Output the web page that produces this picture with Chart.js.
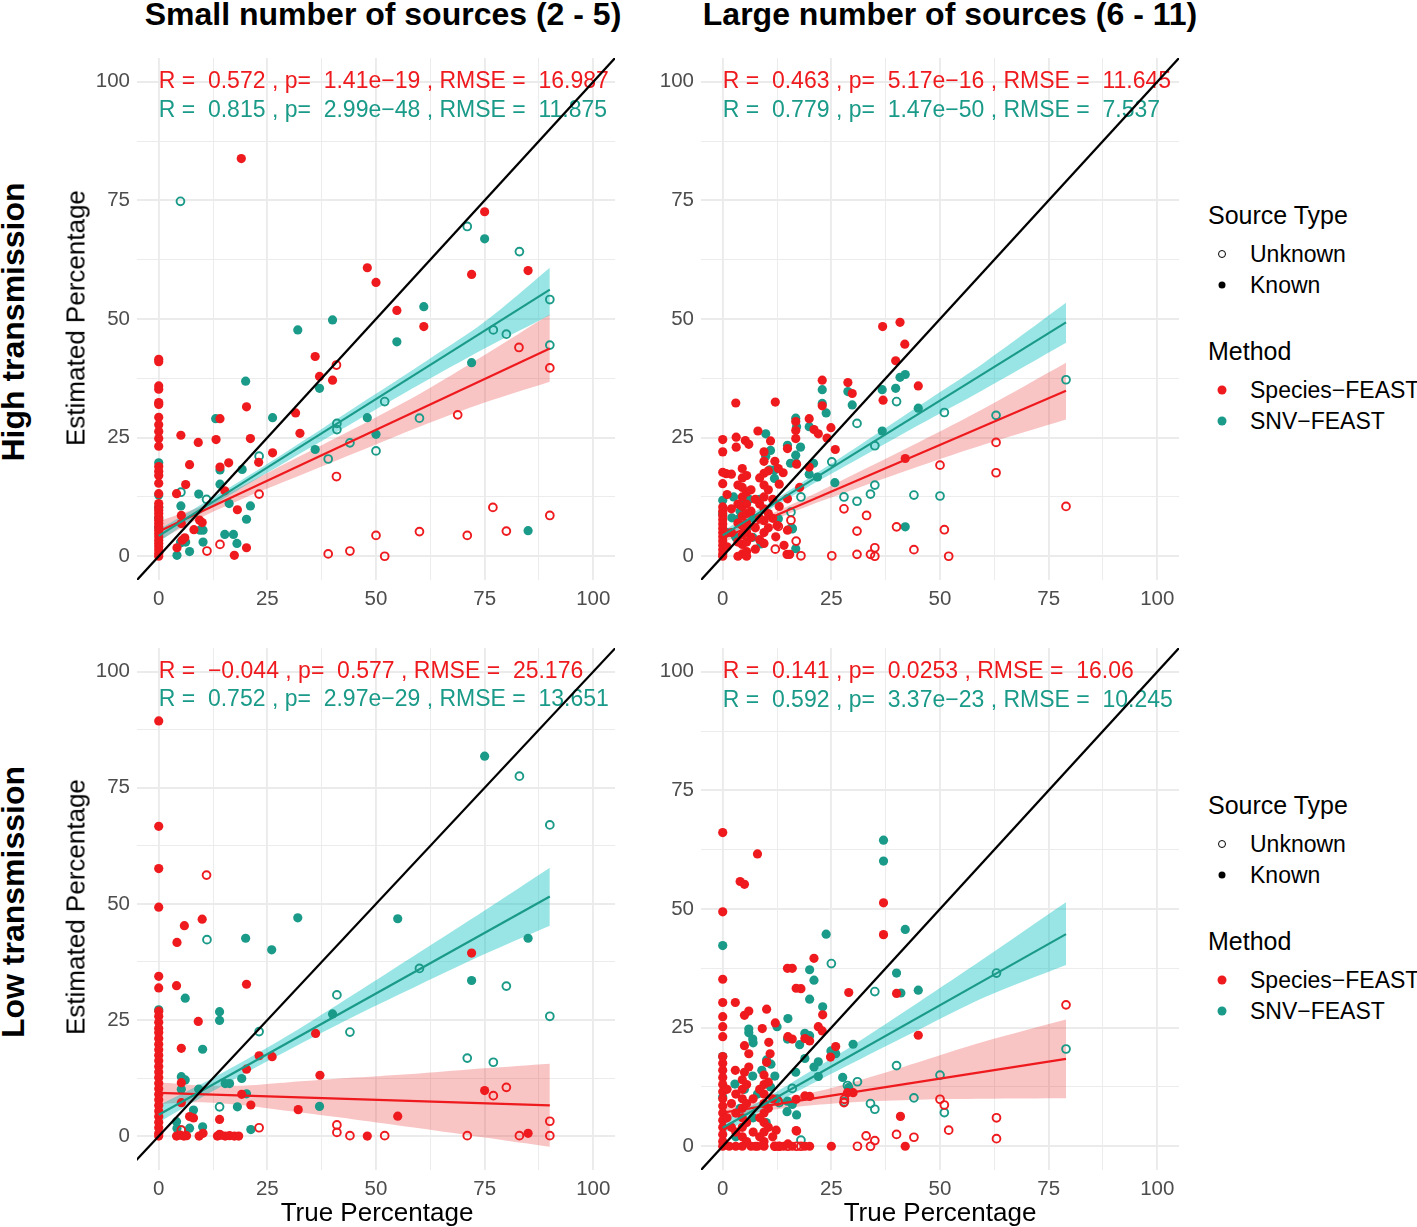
<!DOCTYPE html>
<html>
<head>
<meta charset="utf-8">
<script src="https://cdn.jsdelivr.net/npm/chart.js@4"></script>
<style>
  body { margin: 0; background: #fff; font-family: "Liberation Sans", Arial, sans-serif; }
  #page { position: relative; width: 1417px; height: 1227px; overflow: hidden; }
  canvas { position: absolute; }
  .t { position: absolute; white-space: nowrap; color: #000; }
  .c { transform: translate(-50%, -50%); }
  .r { transform: translate(-50%, -50%) rotate(-90deg); }
  .colt { font-size: 32px; font-weight: bold; }
  .rowt { font-size: 32px; font-weight: bold; }
  .axt { font-size: 26px; }
  .lgt { font-size: 25px; transform: translateY(-50%); }
  .lgi { font-size: 23px; transform: translateY(-50%); }
  .dot { position: absolute; border-radius: 50%; transform: translate(-50%, -50%); box-sizing: border-box; }
</style>
</head>
<body>
<div id="page">
  <canvas id="hs" width="548" height="582" style="left:77px;top:38px"></canvas>
  <canvas id="hl" width="548" height="582" style="left:641px;top:38px"></canvas>
  <canvas id="ls" width="548" height="582" style="left:77px;top:628px"></canvas>
  <canvas id="ll" width="548" height="582" style="left:641px;top:628px"></canvas>

  <div class="t c colt" style="left:383px;top:14px">Small number of sources (2 - 5)</div>
  <div class="t c colt" style="left:950px;top:14px">Large number of sources (6 - 11)</div>
  <div class="t r rowt" style="left:13px;top:322px">High transmission</div>
  <div class="t r rowt" style="left:13px;top:902px">Low transmission</div>
  <div class="t r axt" style="left:76px;top:318px">Estimated Percentage</div>
  <div class="t r axt" style="left:76px;top:907px">Estimated Percentage</div>
  <div class="t c axt" style="left:377px;top:1212px">True Percentage</div>
  <div class="t c axt" style="left:940px;top:1212px">True Percentage</div>

  <div id="legends"></div>
</div>

<script>
// colours
const RED = '#EE1A1E';
const TEAL = '#1A9A88';
const RED_BAND = 'rgba(235,60,60,0.30)';
const TEAL_BAND = 'rgba(0,190,190,0.40)';

// axes
const majorTicks = [0, 25, 50, 75, 100];
const gridVals = [0, 12.5, 25, 37.5, 50, 62.5, 75, 87.5, 100];
const refLine = [[-10, -10], [110, 110]];

// ---- High transmission, small number of sources ----
const hs_spKnown = [[19,83.8],[75,72.6],[48,60.8],[50,57.7],[72,59.4],[85,60.2],[54.8,51.8],[61,48.4],[36,42.1],[37,37.9],[40,37.1],[20.2,31.5],[31.5,30.2],[32.5,25.9],[21.1,24.8],[23,19.8],[26.2,21.8],[14.1,29],[13.2,24.6],[5.1,25.5],[9.1,24],[7.1,19.3],[14.1,18.8],[16.1,19.7],[6.2,15.1],[4.1,13.2],[15.2,13.8],[18.1,9.8],[20.2,1.8],[17.4,0.2],[5.2,8.6],[5.2,6.9],[8.1,5.6],[9.4,7.6],[10,7.1],[4.2,1.8],[5.4,3.4],[6,3.9],
  [0,41.5],[0,41],[0,35.9],[0,35.2],[0,32.4],[0,32],[0,29.3],[0,27.7],[0,26.3],[0,24.8],[0,23.2],[0,18.9],[0,17.9],[0,17],[0,15.4],[0,13.2],[0,11.1],[0,10.4],[0,9.7],[0,9],[0,8.3],[0,7.6],[0,6.9],[0,6.2],[0,5.5],[0,4.8],[0,4.1],[0,3.4],[0,2.7],[0,2],[0,1.3],[0,0.6],[0,0]];
const hs_spUnknown = [[40.9,40.3],[68.8,29.8],[82.9,44],[90,39.7],[40.9,16.8],[23.1,13.1],[76.9,10.3],[90,8.6],[50,4.4],[60,5.2],[71,4.4],[80,5.3],[39,0.5],[44,1.1],[52,0],[11.1,1.1],[14.1,2.5]];
const hs_snvKnown = [[75,66.9],[61,52.6],[40,49.8],[32,47.7],[54.8,45.2],[20,36.9],[37,35.4],[26.2,29.2],[48,29.2],[50,25.7],[36,22.5],[72,40.8],[85,5.4],[13.1,29],[19.2,18.3],[14.1,18.2],[14.1,15.2],[9.2,13.1],[5.1,10.6],[16.2,11.1],[21.1,10.6],[20.2,7.8],[10.2,5.5],[15.2,4.6],[17.2,4.6],[10.2,3],[18,2.7],[7.1,1],[4.2,0.2],[5.1,3],[6.2,3],[9.5,5.5],[0,19.7],[0,12.9],[0,10.3],[0,8],[0,6]];
const hs_snvUnknown = [[5,74.8],[71,69.5],[83,64.2],[90,54.1],[77,47.7],[80,46.8],[90,44.5],[52,32.6],[60,29.1],[41,28],[41,26.7],[44,23.9],[39,20.5],[50,22.2],[23.1,21.1],[11,12],[5.1,13.5],[5.1,2.9]];
const hs_spFit = [[0,5.2],[90,43.8]];
const hs_snvFit = [[0,4.3],[90,56.2]];
// band rows: [x, lower, upper]
const hs_spBand = [[0,3.3,7.4],[10,8.3,10.6],[20,12.4,15.2],[30,16.1,19.9],[45,21.7,26.9],[60,27.3,34.2],[75,32.4,42.4],[90,36.8,51]];
const hs_snvBand = [[0,3,5.6],[10,9.2,11],[20,14.9,16.6],[30,20.3,22.4],[45,28.3,31.3],[60,36.2,40.2],[75,43.8,49.4],[90,50.8,60.8]];
const hs_notes = ['R =  0.572 , p=  1.41e\u221219 , RMSE =  16.987', 'R =  0.815 , p=  2.99e\u221248 , RMSE =  11.875'];

// ---- High transmission, large number of sources ----
const hl_spKnown = [[36.8,48.4],[40.8,49.3],[41.9,44.7],[39.8,41.2],[45,35.9],[36.9,32.9],[22.9,37.1],[28.8,36.6],[29.8,34.3],[22.9,31.7],[12.1,32.5],[3,32.3],[19.9,29],[21,26.7],[22,25.8],[24,24.9],[24.9,27.1],[25.9,22.5],[42,20.6],[16.8,28.4],[16.8,26.5],[16.8,24.8],[14.9,22.7],[19.9,18.8],[13.9,17.6],[13,15.2],[12.8,18.5],[14.9,12.1],[14.9,5.5],[12.2,4.1],[14.1,2.3],[14.8,0.4],[15.4,0.4],[17,19.4],[17.7,14.5],
  [3.1,25.1],[5.2,24.4],[6,23.6],[8.1,26.4],[11,24.3],[3.1,23],[2,17.3],[0.8,17.4],[0,24.6],[0,22],[0,17.7],[0,15.3],
  [0,10.4],[0,9.5],[0,8.6],[0,7.7],[0,6.8],[0,5.9],[0,5],[0,4.1],[0,3.2],[0,2.3],[0,1.4],[0,0.5],[0,0],
  [4.5,18.5],[4.5,16.5],[4.5,14.5],[4.5,12.5],[4.5,10.5],[4.5,8.5],[4.5,6.5],[4.5,4.5],[4.5,2.5],[4.5,0.5],
  [5.5,17],[5.5,13.5],[5.5,11],[5.5,9],[5.5,7],[5.5,5],[5.5,3],[5.5,1],[5.5,0],
  [3.5,15],[3.5,11],[3.5,7],[3.5,3],[3.5,0],[2,10],[2,5],[1,13],[1,2],[6.5,14],[6.5,9.5],[6.5,4],[7.5,12],[7.5,6],[7.5,1.5],
  [9.5,22],[9.5,20],[9.5,17.5],[9.5,15],[9.5,12.5],[9.5,10],[9.5,7.5],[9.5,5],[9.5,2.7],[10.5,18],[10.5,14],[10.5,9],[10.5,6],[8.5,16.5],[8.5,11],[8.5,8],[8.5,3.5],[11.5,12],[11.5,8],[12,20],[13,10.5],[12.5,6.5]];
const hl_spUnknown = [[79,10.5],[62.9,24],[62.9,17.6],[50,19.2],[27.9,10],[33.1,8.6],[30.9,5.3],[40,6.2],[51,5.6],[44,1.4],[52,0],[35,1.8],[34,0.4],[35,0],[30.9,0.4],[25.1,0.1],[18,0.1],[16.9,3.2],[15.7,7.6],[12.8,6.3],[12.1,1.5]];
const hl_snvKnown = [[42,38.3],[40.8,37.7],[39.8,35.4],[36.7,35.1],[28.8,34.7],[29.8,31.9],[22.9,35.1],[22.9,32.2],[23.8,30.2],[45,31.2],[36.7,26.4],[25.8,15.5],[16.8,29.1],[17,27.3],[19.9,27.3],[17.9,23],[14.9,23.4],[16.8,21.3],[9.9,25.8],[11,22.3],[9.9,21.1],[21.8,16.7],[19.9,17.3],[20.9,19.6],[16.9,19.6],[15.6,19.6],[10.8,18.2],[11.9,16.4],[11.9,18.2],[12.8,7.9],[15.8,6],[16.8,1.6],[42,6.2],[8.8,2.6],[6.9,4],[2.1,8.1],[5,11.3],[3.5,7.8],[6.1,12],[8.5,12],[0,11.8],[0,9],[1,5],[3,4],[4,9.5],[7,8],[2.5,12.5],[5.5,6]];
const hl_snvUnknown = [[79,37.2],[62.9,29.7],[51,30.3],[40,32.6],[30.9,28],[35,23.3],[25.1,19.9],[18,12.5],[27.9,12.5],[30.9,11.6],[34,13.1],[35,15],[44,12.9],[50,12.7],[15.7,9.3],[16,5.8]];
const hl_spFit = [[0,3.8],[79,34.9]];
const hl_snvFit = [[0,4.4],[79,49.3]];
const hl_spBand = [[0,2.8,4.8],[10,7,8.5],[20,10.7,12.7],[30,14,17.2],[45,18.9,24],[60,23.5,31.1],[79,28.8,40.8]];
const hl_snvBand = [[0,3.4,5.3],[10,9.4,10.8],[20,14.8,16.6],[30,19.9,22.5],[45,27.6,31.6],[60,35.1,40.7],[79,45,53.4]];
const hl_notes = ['R =  0.463 , p=  5.17e\u221216 , RMSE =  11.645', 'R =  0.779 , p=  1.47e\u221250 , RMSE =  7.537'];

// ---- Low transmission, small number of sources ----
const ls_spKnown = [[0,89.4],[0,66.7],[0,57.6],[0,49.3],[10,46.7],[5.9,45.3],[4.2,41.7],[0,34.4],[0,31.9],[4.1,32.4],[20.2,32.7],[9.1,24.7],[5.2,18.9],[36.1,22.1],[23.1,17.3],[26.1,17.1],[20.2,14.4],[37.1,13.1],[72,39.4],[75,9.8],[85,0.6],[48,0],[55,4.3],[32.1,5.7],[21.2,6.7],[19.1,9],[5.2,11.5],[5.2,7.2],[7.1,4.2],[8,3.9],[14,3.6],
  [4.1,0],[5,0.2],[5.8,0],[6.4,0.1],[9.3,0],[10.2,0.6],[13.5,0],[14.3,0.2],[15.3,0],[16.3,0.1],[17.4,0],[18.4,0],
  [0,26.9],[0,25.8],[0,24.5],[0,23.2],[0,22.3],[0,21],[0,19.8],[0,18.6],[0,17.4],[0,16.2],[0,15],[0,13.8],[0,12.6],[0,11.4],[0,10.2],[0,9],[0,7.8],[0,6.6],[0,5.4],[0,4.2],[0,3],[0,1.8],[0,0.6],[0,0]];
const ls_spUnknown = [[11,56.2],[80,10.5],[77,8.7],[90,3.2],[90,0.1],[83,0.1],[71,0.1],[52,0.1],[44,0.1],[41,2.4],[41,0.8],[23.1,1.8],[14,0.3],[5.2,1.3]];
const ls_snvKnown = [[75,81.8],[32,47],[55,46.8],[20,42.6],[85,42.6],[26,40.1],[72,33.5],[6.1,29.7],[0,27.2],[14,26.8],[14,24.9],[40,26.3],[10.1,18.7],[37,6.4],[5.2,12.8],[6.1,12.1],[5.2,10.1],[9.2,10.1],[15.3,11.3],[16.3,11.3],[19.1,12.4],[20.2,9.1],[8,5.6],[18.1,6.3],[7.1,1.7],[10.1,2],[4.1,3.1],[21.2,1.4],[4.2,1.7]];
const ls_snvUnknown = [[83,77.5],[90,67],[11.1,42.3],[60,36.1],[80,32.3],[41,30.4],[90,25.8],[44,22.4],[23.1,22.5],[71,16.8],[77,15.9],[14,6.3],[5.2,1.3]];
const ls_spFit = [[0,9.3],[90,6.6]];
const ls_snvFit = [[0,4.6],[90,51.6]];
const ls_spBand = [[0,6.9,11.6],[10,7.3,10.9],[20,6.6,10.9],[30,5.4,11.6],[45,3.6,12.6],[60,1.7,13.5],[75,-0.3,14.6],[90,-2.3,15.6]];
const ls_snvBand = [[0,2.9,6.6],[10,8.4,11.3],[20,13.6,16.4],[30,18.6,21.8],[45,25.8,30.6],[60,32.6,39.6],[75,39.2,48.6],[90,45.3,57.8]];
const ls_notes = ['R =  \u22120.044 , p=  0.577 , RMSE =  25.176', 'R =  0.752 , p=  2.97e\u221229 , RMSE =  13.651'];

// ---- Low transmission, large number of sources ----
const ll_spKnown = [[0,66.1],[8,61.6],[4,55.8],[5,55.2],[0,49.4],[37,51.3],[37,44.6],[0,35.2],[0,30.3],[0,27.3],[0,25.2],[0,23.1],[21,39.6],[16,37.5],[18,33.2],[29,32.4],[40,32.2],[2.9,30.3],[5,27.6],[6,28.5],[10.1,28.9],[12.1,26],[9.1,24.8],[23,27.7],[22,25.2],[22.9,24.3],[20,22.2],[16,22.6],[26,21],[24.8,18.8],[45,23.4],[30,11.3],[20,10.5],[17,3.2],[40.9,6.3],[42,0],[25,0],[20,0],[18.9,0],[14.9,37.5],[16.9,33.3],[15,23.1],[18.9,22.7],[12.3,3.4],[16.9,3.3],[16.9,9.9],[18.9,10.6],[28.7,11.3],[5,21.2],[6,19.5],[10.6,21.9],[10.9,19.5],[10.1,17.7],[2.9,16],[5,15.6],[6,16.7],
  [0,18.9],[0,17.5],[0,16],[0,14.5],[0,13],[0,11.5],[0,10],[0,8.5],[0,7],[0,5.5],[0,4],[0,2.5],[0,1],[0,0],
  [4.5,14],[4.5,12],[4.5,10],[4.5,8],[4.5,6],[4.5,4],[4.5,2],[4.5,0],[5.5,13],[5.5,9],[5.5,5],[5.5,1],[3,11],[3,7],[3,3],[3,0],[2,9],[2,4],[1,12],[1,6],[1.5,0],
  [9.5,15],[9.5,13],[9.5,11],[9.5,9],[9.5,7],[9.5,5],[9.5,3],[9.5,1],[9.5,0],[10.5,13.5],[10.5,8],[10.5,4],[8.5,12],[8.5,6],[8.5,2],[7,10],[7,3],[6.5,0],[11.5,10],[11.5,2],[12,0],[13,0],[14,0],[15,0.5],[16,0],[7.5,0],[8,0]];
const ll_spUnknown = [[79,29.8],[63,6],[63,1.6],[52,3.4],[51,8.7],[50,9.9],[28,9.9],[27.9,9.2],[44,1.9],[40,2.5],[33,2.2],[35,1.2],[34,0],[31,0],[12.7,9.5],[18,0],[17,0],[15,0],[13,0],[12,0]];
const ll_snvKnown = [[37,64.5],[37,60.1],[42,45.7],[23.8,44.7],[0,42.3],[20,37.2],[21,35],[40,36.5],[45,32.9],[41,32.3],[20,31],[23,29.4],[15,26.9],[30,21.5],[26,19.5],[6,23.9],[7,21.8],[20,23.3],[17.7,21.4],[12.5,25.2],[22,14.7],[29,12.4],[14.8,7.3],[17,6.6],[18.9,23.8],[18.9,18.5],[14.9,22.6],[6,24.7],[6.9,22.6],[24.9,20.1],[22,17.8],[21,16.7],[27.6,14.5],[16.8,15.6],[14.9,9.5],[16,8.8],[10.1,18.2],[11.1,17.3],[12,14.8],[6.9,14.8],[2.8,13.1],[0,10.4],[0,18.9],[5,12],[8,11],[4,8],[7,6],[10,5],[3,2],[12.5,10],[11,12.5],[9,16]];
const ll_snvUnknown = [[25,38.5],[35,32.6],[63,36.5],[79,20.5],[40,17],[50,15],[31,13.6],[28,9.4],[34,9],[35,7.8],[44,10.2],[51,7.1],[16,12.2],[13,9.2],[18,1.3],[28.7,12.8]];
const ll_spFit = [[0,7.1],[79,18.4]];
const ll_snvFit = [[0,3.9],[79,44.7]];
const ll_spBand = [[0,5.9,8.4],[10,7.5,9.5],[20,8.6,11.2],[30,9.3,13.5],[45,9.8,17.7],[60,10,22],[79,10.1,26.7]];
const ll_snvBand = [[0,2.6,5.3],[10,8,10.2],[20,12.9,15.7],[30,17.6,21.3],[45,24.5,30.3],[60,31.3,39.5],[79,38.2,51.4]];
const ll_notes = ['R =  0.141 , p=  0.0253 , RMSE =  16.06', 'R =  0.592 , p=  3.37e\u221223 , RMSE =  10.245'];

const noteY = [100, 94];

const xy = arr => arr.map(p => ({ x: p[0], y: p[1] }));

const notesPlugin = {
    id: 'notes',
    beforeDatasetsDraw(chart, args, opts) {
        const ctx = chart.ctx;
        const sx = chart.scales.x, sy = chart.scales.y;
        ctx.save();
        ctx.font = '23px "Liberation Sans", Arial, sans-serif';
        ctx.textBaseline = 'middle';
        ctx.textAlign = 'left';
        opts.lines.forEach((txt, k) => {
            ctx.fillStyle = k == 0 ? RED : TEAL;
            ctx.fillText(txt, sx.getPixelForValue(0), sy.getPixelForValue(noteY[k]));
        });
        ctx.restore();
    }
};

function pts(data, color, open, order) {
    return {
        data: xy(data), showLine: false, order: order,
        pointRadius: open ? 3.9 : 4.6,
        pointBackgroundColor: open ? 'rgba(0,0,0,0)' : color,
        pointBorderColor: color,
        pointBorderWidth: open ? 1.9 : 0
    };
}

function fitLine(data, color, order) {
    return { data: xy(data), borderColor: color, borderWidth: 2.2, pointRadius: 0, fill: false, order: order };
}

function band(rows, color, order) {
    const hi = { data: rows.map(r => ({ x: r[0], y: r[2] })), borderWidth: 0, pointRadius: 0, tension: 0.3,
                 backgroundColor: color, fill: '+1', order: order };
    const lo = { data: rows.map(r => ({ x: r[0], y: r[1] })), borderWidth: 0, pointRadius: 0, tension: 0.3,
                 fill: false, order: order + 1 };
    return [hi, lo];
}

function axis(min, max) {
    return {
        type: 'linear', min: min, max: max,
        afterBuildTicks: s => { s.ticks = gridVals.map(v => ({ value: v })); },
        grid: { color: '#EBEBEB', drawTicks: false,
                lineWidth: c => (c.tick && c.tick.value % 25 === 0 ? 1.9 : 0.95) },
        border: { display: false },
        ticks: { autoSkip: false, maxRotation: 0, padding: 7, color: '#4D4D4D',
                 font: { size: 20.5, family: '"Liberation Sans", Arial, sans-serif' },
                 callback: v => (majorTicks.includes(v) ? String(v) : '') }
    };
}

function makePanel(id, yMin, sp, spOpen, snv, snvOpen, spFit, snvFit, spBand, snvBand, notes) {
    const x = axis(-5, 105);
    x.afterFit = s => { s.height = 40; };
    const y = axis(yMin, id == 'ls' ? 105.1 : 105);
    y.afterFit = s => { s.width = 60; };

    const datasets = [
        { data: xy(refLine), borderColor: '#000', borderWidth: 2.2, pointRadius: 0, fill: false, order: 0 },
        fitLine(snvFit, TEAL, 1),
        fitLine(spFit, RED, 2),
        pts(sp, RED, false, 3),
        pts(spOpen, RED, true, 4),
        pts(snv, TEAL, false, 5),
        pts(snvOpen, TEAL, true, 6),
        ...band(snvBand, TEAL_BAND, 7),
        ...band(spBand, RED_BAND, 9)
    ];

    return new Chart(document.getElementById(id), {
        type: 'line',
        data: { datasets: datasets },
        options: {
            responsive: false,
            animation: false,
            devicePixelRatio: 1,
            events: [],
            layout: { padding: { left: 0, right: 10, top: 20, bottom: 0 } },
            scales: { x: x, y: y },
            plugins: { legend: { display: false }, tooltip: { enabled: false }, notes: { lines: notes } }
        },
        plugins: [notesPlugin]
    });
}

makePanel('hs', -5, hs_spKnown, hs_spUnknown, hs_snvKnown, hs_snvUnknown, hs_spFit, hs_snvFit, hs_spBand, hs_snvBand, hs_notes);
makePanel('hl', -5, hl_spKnown, hl_spUnknown, hl_snvKnown, hl_snvUnknown, hl_spFit, hl_snvFit, hl_spBand, hl_snvBand, hl_notes);
makePanel('ls', -7.3, ls_spKnown, ls_spUnknown, ls_snvKnown, ls_snvUnknown, ls_spFit, ls_snvFit, ls_spBand, ls_snvBand, ls_notes);
makePanel('ll', -5, ll_spKnown, ll_spUnknown, ll_snvKnown, ll_snvUnknown, ll_spFit, ll_snvFit, ll_spBand, ll_snvBand, ll_notes);

// legends (two copies, one per row)
const legendTops = [0, 590];
let html = '';
legendTops.forEach(dy => {
    html += `<div class="t lgt" style="left:1208px;top:${215 + dy}px">Source Type</div>`;
    html += `<div class="dot" style="left:1222px;top:${254 + dy}px;width:8px;height:8px;border:1.6px solid #000"></div>`;
    html += `<div class="t lgi" style="left:1250px;top:${254 + dy}px">Unknown</div>`;
    html += `<div class="dot" style="left:1222px;top:${285 + dy}px;width:7px;height:7px;background:#000"></div>`;
    html += `<div class="t lgi" style="left:1250px;top:${285 + dy}px">Known</div>`;
    html += `<div class="t lgt" style="left:1208px;top:${351 + dy}px">Method</div>`;
    html += `<div class="dot" style="left:1222px;top:${390 + dy}px;width:9px;height:9px;background:${RED}"></div>`;
    html += `<div class="t lgi" style="left:1250px;top:${390 + dy}px">Species\u2212FEAST</div>`;
    html += `<div class="dot" style="left:1222px;top:${421 + dy}px;width:9px;height:9px;background:${TEAL}"></div>`;
    html += `<div class="t lgi" style="left:1250px;top:${421 + dy}px">SNV\u2212FEAST</div>`;
});
document.getElementById('legends').innerHTML = html;
</script>
</body>
</html>
